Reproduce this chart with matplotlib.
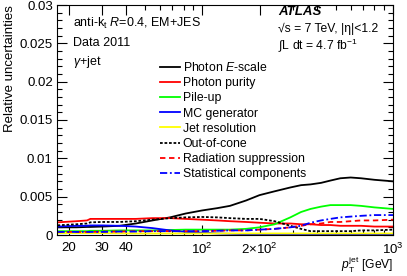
import numpy as np
import matplotlib
matplotlib.use("Agg")
import matplotlib.pyplot as plt
from matplotlib.ticker import FixedLocator, FixedFormatter, MultipleLocator, NullFormatter

plt.rcParams['font.family'] = ['Liberation Sans', 'DejaVu Sans']
plt.rcParams['mathtext.fontset'] = 'custom'
plt.rcParams['mathtext.rm'] = 'Liberation Sans'
plt.rcParams['mathtext.it'] = 'Liberation Sans:italic'
plt.rcParams['mathtext.bf'] = 'Liberation Sans:bold'

# pT points (GeV)
pt = [17.5, 22, 25, 26, 30, 37, 45, 55, 68, 82, 100, 120, 140, 170, 200,
      240, 290, 330, 370, 420, 470, 530, 600, 680, 800, 1000]

e_scale = [0.0010, 0.0010, 0.00105, 0.00105, 0.0011, 0.0012, 0.0015, 0.0019, 0.0023, 0.0028,
           0.0032, 0.0035, 0.0038, 0.0045, 0.0052, 0.0057, 0.0062, 0.0065, 0.0066, 0.0068,
           0.0071, 0.0074, 0.0075, 0.0074, 0.0072, 0.0070]
purity = [0.00165, 0.0018, 0.0019, 0.0021, 0.0021, 0.0021, 0.0021, 0.0022, 0.0022, 0.0021,
          0.0020, 0.0019, 0.0018, 0.0017, 0.0016, 0.0015, 0.0015, 0.0014, 0.0014, 0.0013,
          0.0013, 0.0012, 0.0012, 0.0012, 0.0011, 0.0011]
pileup = [0.0005, 0.0005, 0.0005, 0.00055, 0.00055, 0.0006, 0.0006, 0.0006, 0.00065, 0.0007,
          0.0007, 0.0007, 0.0007, 0.0008, 0.0010, 0.0014, 0.0023, 0.0030, 0.0034, 0.0037,
          0.0039, 0.0039, 0.0039, 0.0038, 0.0036, 0.0034]
mc_gen = [0.0011, 0.0012, 0.0012, 0.00125, 0.00125, 0.0012, 0.0011, 0.0009, 0.0006, 0.0004,
          0.0003, 0.0002, 0.00015, 0.0001, 0.0001, 0.0001, 0.0001, 0.0001, 0.0001, 0.0001,
          0.0001, 0.0001, 0.0001, 0.0001, 0.0001, 0.0001]
jet_res = [0.00025, 0.00025, 0.00025, 0.00025, 0.00025, 0.00022, 0.0002, 0.0002, 0.0002, 0.0002,
           0.0002, 0.0002, 0.0002, 0.0002, 0.0002, 0.0002, 0.0002, 0.0002, 0.0002, 0.0002,
           0.0002, 0.0002, 0.0002, 0.0002, 0.0002, 0.0002]
out_of_cone = [0.00126, 0.0014, 0.0015, 0.00165, 0.0017, 0.0017, 0.0018, 0.0020, 0.0022, 0.0023,
               0.00235, 0.0023, 0.0022, 0.0021, 0.0021, 0.0018, 0.0012, 0.0008, 0.0005, 0.0005,
               0.0005, 0.0005, 0.0005, 0.0006, 0.0006, 0.0007]
rad_supp = [0.0004, 0.0004, 0.0004, 0.0004, 0.00045, 0.00045, 0.0005, 0.0005, 0.0005, 0.0005,
            0.0005, 0.00055, 0.0006, 0.0006, 0.0007, 0.0008, 0.0010, 0.0012, 0.0014, 0.0015,
            0.0017, 0.0017, 0.0018, 0.0019, 0.0019, 0.0020]
stat = [0.0004, 0.0004, 0.0004, 0.0004, 0.0004, 0.00045, 0.00045, 0.0005, 0.0005, 0.0005,
        0.0005, 0.00055, 0.0006, 0.0006, 0.0007, 0.0008, 0.0010, 0.0012, 0.0016, 0.0019,
        0.0021, 0.0023, 0.0024, 0.0025, 0.0026, 0.0026]

fig = plt.figure(figsize=(4.07, 2.76), dpi=100)
ax = fig.add_axes([57/407, 1 - 235/276, (393-57)/407, (235-5)/276])

lw = 1.3
ax.plot(pt, e_scale, color='black', lw=lw, label='Photon $E$-scale')
ax.plot(pt, purity, color='red', lw=lw, label='Photon purity')
ax.plot(pt, pileup, color='#00ff00', lw=lw, label='Pile-up')
ax.plot(pt, mc_gen, color='blue', lw=lw, label='MC generator')
ax.plot(pt, jet_res, color='#ffff00', lw=lw, label='Jet resolution')
ax.plot(pt, out_of_cone, color='black', lw=lw, ls=(0, (1.5, 1)), label='Out-of-cone')
ax.plot(pt, rad_supp, color='red', lw=lw, ls=(0, (3, 2)), label='Radiation suppression')
ax.plot(pt, stat, color='blue', lw=lw, ls=(0, (4, 1.5, 1, 1.5)), label='Statistical components')

ax.set_xscale('log')
ax.set_xlim(17.4, 1000)
ax.set_ylim(0, 0.03)

ax.xaxis.set_major_locator(FixedLocator([20, 30, 40, 100, 200, 1000]))
ax.xaxis.set_major_formatter(FixedFormatter(['20', '30', '40', '$10^{2}$', r'$2{\times}10^{2}$', '$10^{3}$']))
minors = [m * 10**d for d in (1, 2) for m in range(2, 10)]
ax.xaxis.set_minor_locator(FixedLocator(minors))
ax.xaxis.set_minor_formatter(NullFormatter())
ax.set_yticks([0, 0.005, 0.01, 0.015, 0.02, 0.025, 0.03])
ax.set_yticklabels(['0', '0.005', '0.01', '0.015', '0.02', '0.025', '0.03'])
ax.yaxis.set_minor_locator(MultipleLocator(0.001))

ax.tick_params(which='both', direction='in', top=True, right=True, labelsize=9.5, width=0.8)
ax.tick_params(which='major', length=7)
ax.tick_params(which='minor', length=3.5)
ax.tick_params(axis='x', pad=5)
ax.tick_params(axis='y', pad=3)

ax.set_ylabel('Relative uncertainties', fontsize=9.5, loc='top')
ax.yaxis.set_label_coords(-0.122, 1.0)
ax.set_xlabel('$p_{\\mathrm{T}}^{\\mathrm{jet}}$ [GeV]', fontsize=8.7, loc='right')
ax.xaxis.set_label_coords(1.0, -0.087)

fig.text(73/407, 1 - 23/276, 'anti-k$_{\\mathrm{t}}$ $R$=0.4, EM+JES', fontsize=9, va='center')
fig.text(73/407, 1 - 43/276, 'Data 2011', fontsize=9, va='center')
fig.text(73/407, 1 - 62/276, '$\\gamma$+jet', fontsize=9, va='center')

fig.text(278/407, 1 - 12/276, 'ATLAS', fontsize=9.5, fontweight='bold', style='italic', va='center')
fig.text(278/407, 1 - 29/276, '√s = 7 TeV, |η|<1.2', fontsize=8.7, va='center')
fig.text(278/407, 1 - 45/276, '∫L dt = 4.7 fb$^{-1}$', fontsize=8.7, va='center')

ax.legend(loc='upper left', bbox_to_anchor=(160/407, 1 - 61/276), bbox_transform=fig.transFigure,
          frameon=False, fontsize=8.8, handlelength=1.6, handletextpad=0.25,
          labelspacing=0.26, borderpad=0, borderaxespad=0)

fig.savefig('out.png', dpi=100)
